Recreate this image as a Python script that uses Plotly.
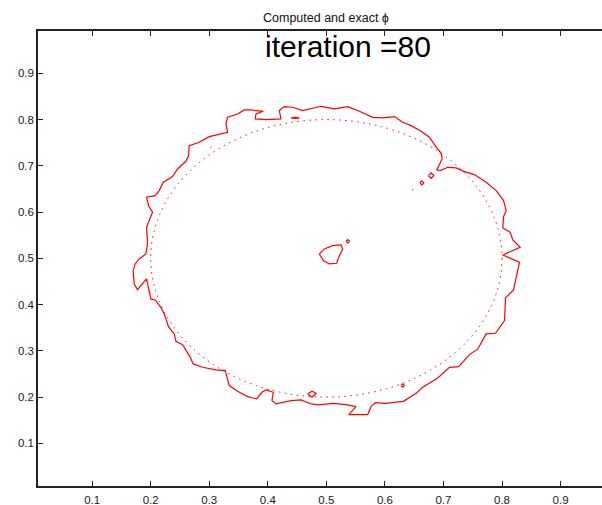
import plotly.graph_objects as go

# ---- data (in axis units) ----
main_x = [0.1701,0.1735,0.1803,0.1918,0.1946,0.1929,0.1974,0.2031,0.1963,0.1929,
          0.2077,0.2145,0.2214,0.2373,0.2459,0.2601,0.2647,0.2658,0.2829,0.2886,
          0.3000,0.3313,0.3285,0.3313,0.3484,0.3598,0.3712,0.3923,0.3798,0.3786,
          0.3969,0.4225,0.4197,0.4282,0.4425,0.4595,0.4909,0.5137,0.5365,0.5564,
          0.5792,0.5963,0.6162,0.6305,0.6447,0.6619,0.6761,0.6846,0.6961,0.6978,
          0.6932,0.6886,0.6943,0.7074,0.7217,0.7359,0.7530,0.7730,0.7901,0.8026,
          0.8072,0.8026,0.8014,0.8140,0.8185,0.8311,0.8014,0.8299,0.8242,0.8197,
          0.8060,0.8043,0.7889,0.7730,0.7587,0.7444,0.7262,0.7103,0.6903,0.6646,
          0.6533,0.6316,0.6009,0.5838,0.5764,0.5706,0.5382,0.5507,0.5336,0.5108,
          0.4880,0.4738,0.4567,0.4396,0.4140,0.4071,0.4094,0.3969,0.3900,0.3809,
          0.3655,0.3484,0.3342,0.3274,0.3114,0.2886,0.2726,0.2670,0.2544,0.2431,
          0.2402,0.2304,0.2231,0.2174,0.2077,0.2003,0.1929,0.1775,0.1718,0.1701]
main_y = [0.4735,0.4880,0.4988,0.5096,0.5312,0.5672,0.5816,0.5996,0.6141,0.6321,
          0.6357,0.6465,0.6645,0.6768,0.6933,0.7099,0.7222,0.7438,0.7510,0.7546,
          0.7632,0.7726,0.7906,0.8050,0.8122,0.8209,0.8209,0.8180,0.8122,0.8014,
          0.8000,0.8014,0.8195,0.8281,0.8267,0.8195,0.8288,0.8231,0.8281,0.8180,
          0.8050,0.8036,0.8065,0.7942,0.7870,0.7748,0.7618,0.7459,0.7272,0.7150,
          0.7041,0.6912,0.6897,0.6969,0.6955,0.6876,0.6811,0.6645,0.6465,0.6249,
          0.6032,0.5903,0.5658,0.5564,0.5398,0.5240,0.5074,0.4915,0.4591,0.4317,
          0.4144,0.3654,0.3380,0.3366,0.3042,0.2919,0.2659,0.2645,0.2415,0.2212,
          0.2082,0.1909,0.1866,0.1881,0.1795,0.1622,0.1622,0.1795,0.1838,0.1866,
          0.1831,0.1852,0.1939,0.1924,0.1852,0.1924,0.2104,0.2155,0.2104,0.1961,
          0.2011,0.2126,0.2249,0.2573,0.2588,0.2645,0.2718,0.2876,0.3135,0.3207,
          0.3366,0.3524,0.3799,0.3942,0.4101,0.4123,0.4555,0.4324,0.4447,0.4735]

island_x = [0.4880,0.4966,0.5108,0.5251,0.5279,0.5222,0.5177,0.5051,0.4949,0.4880]
island_y = [0.5096,0.5204,0.5276,0.5290,0.5204,0.5059,0.4894,0.4880,0.4951,0.5096]

small_loops_x = [
    [0.5335,0.5365,0.5395,0.5365,0.5335],
    [0.4396,0.4467,0.4538,0.4467,0.4396],
    [0.3020,0.3029,0.3038,0.3029,0.3020],
    [0.6744,0.6790,0.6836,0.6790,0.6744],
    [0.6596,0.6630,0.6664,0.6630,0.6596],
    [0.6467,0.6476,0.6485,0.6476,0.6467],
    [0.4681,0.4755,0.4824,0.4755,0.4681],
    [0.6277,0.6305,0.6333,0.6305,0.6277],
]
small_loops_y = [
    [0.5369,0.5405,0.5369,0.5333,0.5369],
    [0.8036,0.8048,0.8036,0.8027,0.8036],
    [0.7402,0.7410,0.7402,0.7394,0.7402],
    [0.6789,0.6847,0.6789,0.6731,0.6789],
    [0.6631,0.6674,0.6631,0.6588,0.6631],
    [0.6479,0.6487,0.6479,0.6471,0.6479],
    [0.2069,0.2126,0.2082,0.1996,0.2069],
    [0.2249,0.2285,0.2249,0.2213,0.2249],
]

exact_center = (0.5, 0.5)
exact_radius = 0.3

tick_vals = [0.1, 0.2, 0.3, 0.4, 0.5, 0.6, 0.7, 0.8, 0.9]
tick_text = ["0.1", "0.2", "0.3", "0.4", "0.5", "0.6", "0.7", "0.8", "0.9"]

title_text = "Computed and exact \u03d5"
iter_text = "iteration =80"

# ---- build contour path ----
xs, ys = [], []
pieces_x = [main_x, island_x] + small_loops_x
pieces_y = [main_y, island_y] + small_loops_y
for px, py in zip(pieces_x, pieces_y):
    xs += px + [None]
    ys += py + [None]

fig = go.Figure()
fig.add_trace(go.Scatter(x=xs, y=ys, mode="lines",
                         line=dict(color="#ff0000", width=1.2),
                         hoverinfo="skip", showlegend=False))

cx, cy = exact_center
fig.add_shape(type="circle", xref="x", yref="y",
              x0=cx - exact_radius, x1=cx + exact_radius,
              y0=cy - exact_radius, y1=cy + exact_radius,
              line=dict(color="#ff0000", width=1, dash="1.5px,4.5px"))

font_family = "Liberation Sans, Arial, sans-serif"
axis_common = dict(
    showgrid=False, zeroline=False, showline=True, linecolor="#222222",
    linewidth=1.5, ticks="inside", ticklen=5, tickwidth=1, tickcolor="#222222",
    tickvals=tick_vals, ticktext=tick_text,
    tickfont=dict(family=font_family, size=11.5, color="#1a1a1a"),
)

fig.update_layout(
    width=602, height=505,
    margin=dict(l=38, r=0, t=31, b=19),
    paper_bgcolor="white", plot_bgcolor="white",
    xaxis=dict(range=[0.0075, 0.9708], mirror="ticks", ticklabelstandoff=2,
               **axis_common),
    yaxis=dict(range=[0.0078, 0.9916], mirror=False, **axis_common),
    annotations=[
        dict(text=title_text, x=0.5, xref="x", y=1.0, yref="paper",
             yshift=13, xanchor="center", yanchor="middle", showarrow=False,
             font=dict(family=font_family, size=12.5, color="#111111")),
        dict(text=iter_text, x=0.392, xref="x", y=0.958, yref="y",
             xanchor="left", yanchor="middle", showarrow=False,
             font=dict(family=font_family, size=30, color="black")),
    ],
)

fig.write_html("out.html")
